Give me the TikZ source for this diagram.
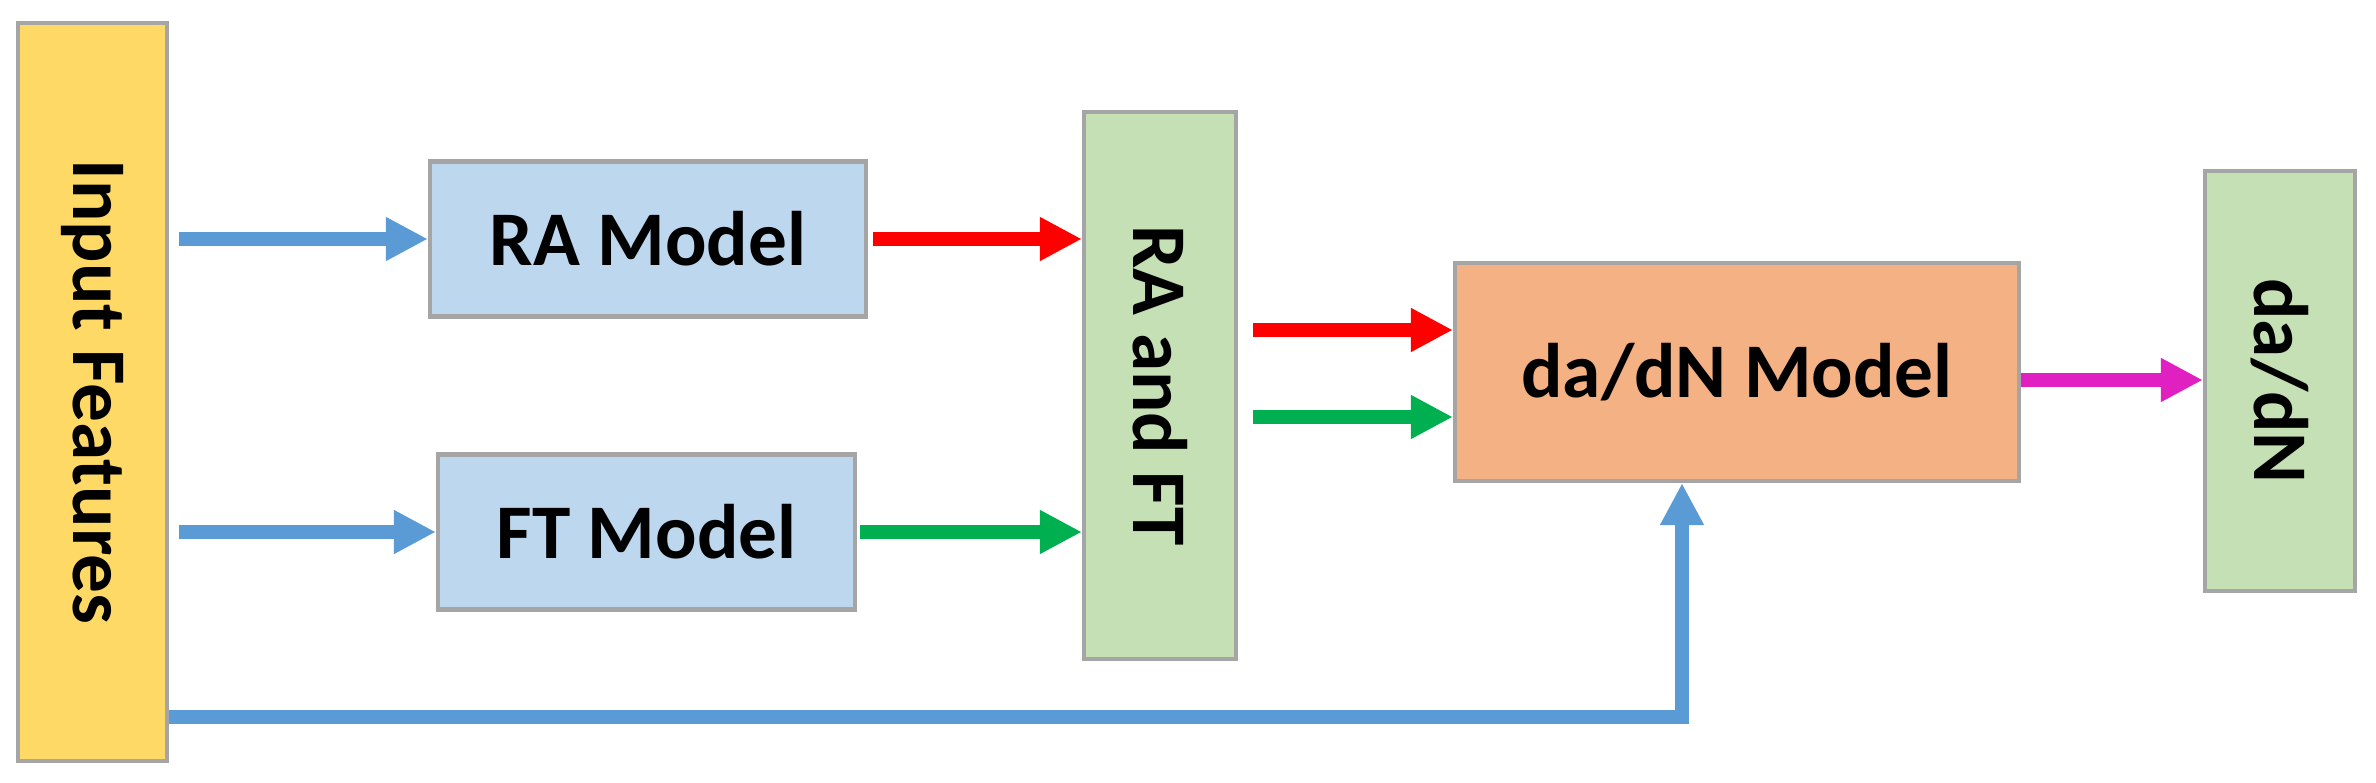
\documentclass[tikz,border=0pt]{standalone}
\usepackage{fontspec}
\setmainfont{Carlito}
\usetikzlibrary{arrows.meta}
\usepackage{xcolor}
\definecolor{boxgray}{HTML}{A5A5A5}
\definecolor{inyellow}{HTML}{FFD966}
\definecolor{modblue}{HTML}{BDD7EE}
\definecolor{outgreen}{HTML}{C5E0B4}
\definecolor{daorange}{HTML}{F4B183}
\definecolor{flowblue}{HTML}{5B9BD5}
\definecolor{flowred}{HTML}{FF0000}
\definecolor{flowgreen}{HTML}{00B050}
\definecolor{flowmag}{HTML}{E020C0}

\begin{document}
\begin{tikzpicture}[
    block/.style={draw=boxgray,line width=1.2pt,inner sep=0pt,font=\fontsize{22}{26}\selectfont\bfseries},
    flow/.style={line width=0.14cm,-{Triangle[length=0.42cm,width=0.41cm]}}
  ]
            \useasboundingbox (0,0) rectangle (23.76,7.82);
            \node[block,fill=inyellow,minimum width=1.49cm,minimum height=7.38cm] (Input) at (0.925,3.90) {\rotatebox{-90}{Input Features}};
            \node[block,fill=modblue,minimum width=4.36cm,minimum height=1.55cm] (RA) at (6.48,5.43) {RA Model};
            \node[block,fill=modblue,minimum width=4.17cm,minimum height=1.55cm] (FT) at (6.465,2.50) {FT Model};
            \node[block,fill=outgreen,minimum width=1.52cm,minimum height=5.47cm] (RAFT) at (11.60,3.965) {\rotatebox{-90}{RA and FT}};
            \node[block,fill=daorange,minimum width=5.64cm,minimum height=2.18cm] (daN) at (17.37,4.10) {da/dN Model};
            \node[block,fill=outgreen,minimum width=1.50cm,minimum height=4.20cm] (dadN) at (22.80,4.01) {\rotatebox{-90}{da/dN}};
            \coordinate (feed) at (16.82,0.65); % bottom line
            \draw[flow,flowblue,shorten <=0.1cm] (Input.east |- RA.west) -- (RA.west);
            \draw[flow,flowblue,shorten <=0.1cm] (Input.east |- FT.west) -- (FT.west);
            \draw[flow,flowred,shorten <=0.05cm] (RA.east) -- (RAFT.west |- RA.east);
            \draw[flow,flowgreen,shorten <=0.03cm] (FT.east) -- (RAFT.west |- FT.east);
            \draw[flow,flowred,shorten <=0.15cm] (RAFT.east |- 0,4.52) -- (daN.west |- 0,4.52);
            \draw[flow,flowgreen,shorten <=0.15cm] (RAFT.east |- 0,3.65) -- (daN.west |- 0,3.65);
            \draw[flow,flowmag] (daN.east |- 0,4.02) -- (dadN.west |- 0,4.02);
            \draw[flow,flowblue] (Input.east |- feed) -| (feed |- daN.south);
\end{tikzpicture}
\end{document}
